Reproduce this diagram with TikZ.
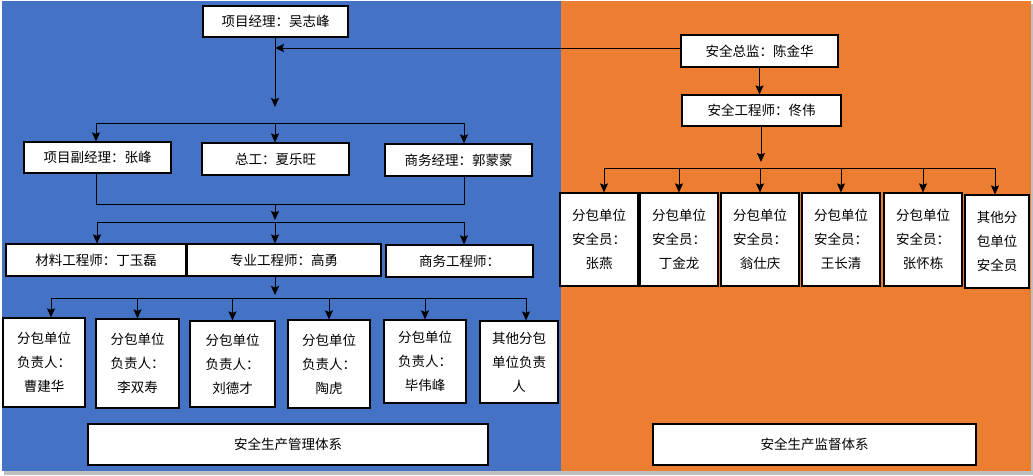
\documentclass[tikz,border=0pt]{standalone}
\usepackage{fontspec}
\newfontfamily\cjk{Noto Sans CJK SC}
\usetikzlibrary{positioning,arrows.meta}

\definecolor{mgmtblue}{HTML}{4472C4}
\definecolor{supvorange}{HTML}{ED7D31}

\tikzset{
  box/.style={draw, fill=white, line width=1.2pt, inner sep=0pt, align=center,
    font=\cjk\fontsize{13.5}{24}\selectfont},
  link/.style={line width=1pt},
  arr/.style={line width=1pt, -{Stealth[length=9pt,width=8pt,inset=1.5pt]}},
}

\begin{document}
\begin{tikzpicture}[x=1pt,y=-1pt]
  \useasboundingbox (0,0) rectangle (1033,475);
  % panels
  \fill[black!25] (4,4) rectangle (1033,475);
  \fill[mgmtblue] (2,1) rectangle (561,471);
  \fill[supvorange] (561,1) rectangle (1031,471);

  % management side
  \node[box, minimum width=145pt, minimum height=31pt] (pm) at (275.5,21.5) {项目经理：吴志峰};
  \node[box, minimum width=147pt, minimum height=31pt] (dpm) at (97.5,157.5) {项目副经理：张峰};
  \node[box, minimum width=147pt, minimum height=32pt] (cge) at (275.5,159) {总工：夏乐旺};
  \node[box, minimum width=147pt, minimum height=32pt] (bm) at (458.5,160) {商务经理：郭蒙蒙};
  \node[box, minimum width=180pt, minimum height=32pt] (mat) at (96,260) {材料工程师：丁玉磊};
  \node[box, minimum width=194pt, minimum height=32pt] (pro) at (284,260) {专业工程师：高勇};
  \node[box, minimum width=147pt, minimum height=32pt] (beng) at (459.5,261) {商务工程师：};
  \node[box, minimum width=82pt, minimum height=89pt] (s1) at (44,362.5) {分包单位\\负责人：\\曹建华};
  \node[box, minimum width=83pt, minimum height=89pt] (s2) at (137.5,363.5) {分包单位\\负责人：\\李双寿};
  \node[box, minimum width=85pt, minimum height=86pt] (s3) at (232.5,364) {分包单位\\负责人：\\刘德才};
  \node[box, minimum width=82pt, minimum height=88pt] (s4) at (329,364) {分包单位\\负责人：\\陶虎};
  \node[box, minimum width=82pt, minimum height=83pt] (s5) at (425,361.5) {分包单位\\负责人：\\毕伟峰};
  \node[box, minimum width=78pt, minimum height=82pt] (s6) at (519,362) {其他分包\\单位负责\\人};
  \node[box, minimum width=400pt, minimum height=41pt] (mgmt) at (288,444.5) {安全生产管理体系};

  % supervision side
  \node[box, minimum width=157pt, minimum height=32pt] (chief) at (759.5,51) {安全总监：陈金华};
  \node[box, minimum width=159pt, minimum height=31pt] (seng) at (761.5,110.5) {安全工程师：佟伟};
  \node[box, minimum width=78pt, minimum height=93pt] (o1) at (599,239.5) {分包单位\\安全员：\\张燕};
  \node[box, minimum width=78pt, minimum height=93pt] (o2) at (679,239.5) {分包单位\\安全员：\\丁金龙};
  \node[box, minimum width=78pt, minimum height=93pt] (o3) at (760,239.5) {分包单位\\安全员：\\翁仕庆};
  \node[box, minimum width=78pt, minimum height=93pt] (o4) at (841,239.5) {分包单位\\安全员：\\王长清};
  \node[box, minimum width=78pt, minimum height=93pt] (o5) at (923,239.5) {分包单位\\安全员：\\张怀栋};
  \node[box, minimum width=64pt, minimum height=93pt] (o6) at (997,241.5) {其他分\\包单位\\安全员};
  \node[box, minimum width=323pt, minimum height=41pt] (supv) at (814.5,444.5) {安全生产监督体系};

  % bus points
  \coordinate (bus1) at (275,123);
  \coordinate (bus1w) at (96,123);
  \coordinate (bus1e) at (464,123);
  \coordinate (join1) at (275,204);
  \coordinate (join1w) at (96,204);
  \coordinate (join1e) at (464,204);
  \coordinate (bus2) at (275,222);
  \coordinate (bus2w) at (97,222);
  \coordinate (bus2e) at (464,222);
  \coordinate (bus3) at (275,298);
  \coordinate (bus3w) at (51,298);
  \coordinate (bus3e) at (526,298);
  \coordinate (bus4) at (761,168);
  \coordinate (bus4w) at (604,168);
  \coordinate (bus4e) at (995,168);

  % connectors, management
  \draw[arr] (pm.south -| bus1) -- ([yshift=16pt]bus1);
  \draw[arr] ([yshift=3pt]chief.west) -- ([yshift=3pt]chief.west -| bus1);
  \draw[link] (bus1w) -- (bus1e);
  \draw[arr] (bus1w) -- (bus1w |- dpm.north);
  \draw[arr] (bus1) -- (bus1 |- cge.north);
  \draw[arr] (bus1e) -- (bus1e |- bm.north);
  \draw[link] (dpm.south -| join1w) -- (join1w) -- (join1e) -- (bm.south -| join1e);
  \draw[arr] (join1) -- ([yshift=2pt]bus2);
  \draw[link] (bus2w) -- (bus2e);
  \draw[arr] (bus2w) -- (bus2w |- mat.north);
  \draw[arr] (bus2) -- (bus2 |- pro.north);
  \draw[arr] (bus2e) -- (bus2e |- beng.north);
  \draw[arr] (pro.south -| bus3) -- ([yshift=3pt]bus3);
  \draw[link] (bus3w) -- (bus3e);
  \draw[arr] (bus3w) -- (bus3w |- s1.north);
  \draw[arr] (s2.north |- bus3) -- (s2.north);
  \draw[arr] (s3.north |- bus3) -- (s3.north);
  \draw[arr] (s4.north |- bus3) -- (s4.north);
  \draw[arr] (s5.north |- bus3) -- (s5.north);
  \draw[arr] (bus3e) -- (bus3e |- s6.north);

  % connectors, supervision
  \draw[arr] (chief.south) -- (chief.south |- seng.north);
  \draw[arr] (seng.south -| bus4) -- ([yshift=6pt]bus4);
  \draw[link] (bus4w) -- (bus4e);
  \draw[arr] (bus4w) -- (bus4w |- o1.north);
  \draw[arr] (o2.north |- bus4) -- (o2.north);
  \draw[arr] (o3.north |- bus4) -- (o3.north);
  \draw[arr] (o4.north |- bus4) -- (o4.north);
  \draw[arr] (o5.north |- bus4) -- (o5.north);
  \draw[arr] (bus4e) -- (bus4e |- o6.north);
\end{tikzpicture}
\end{document}
